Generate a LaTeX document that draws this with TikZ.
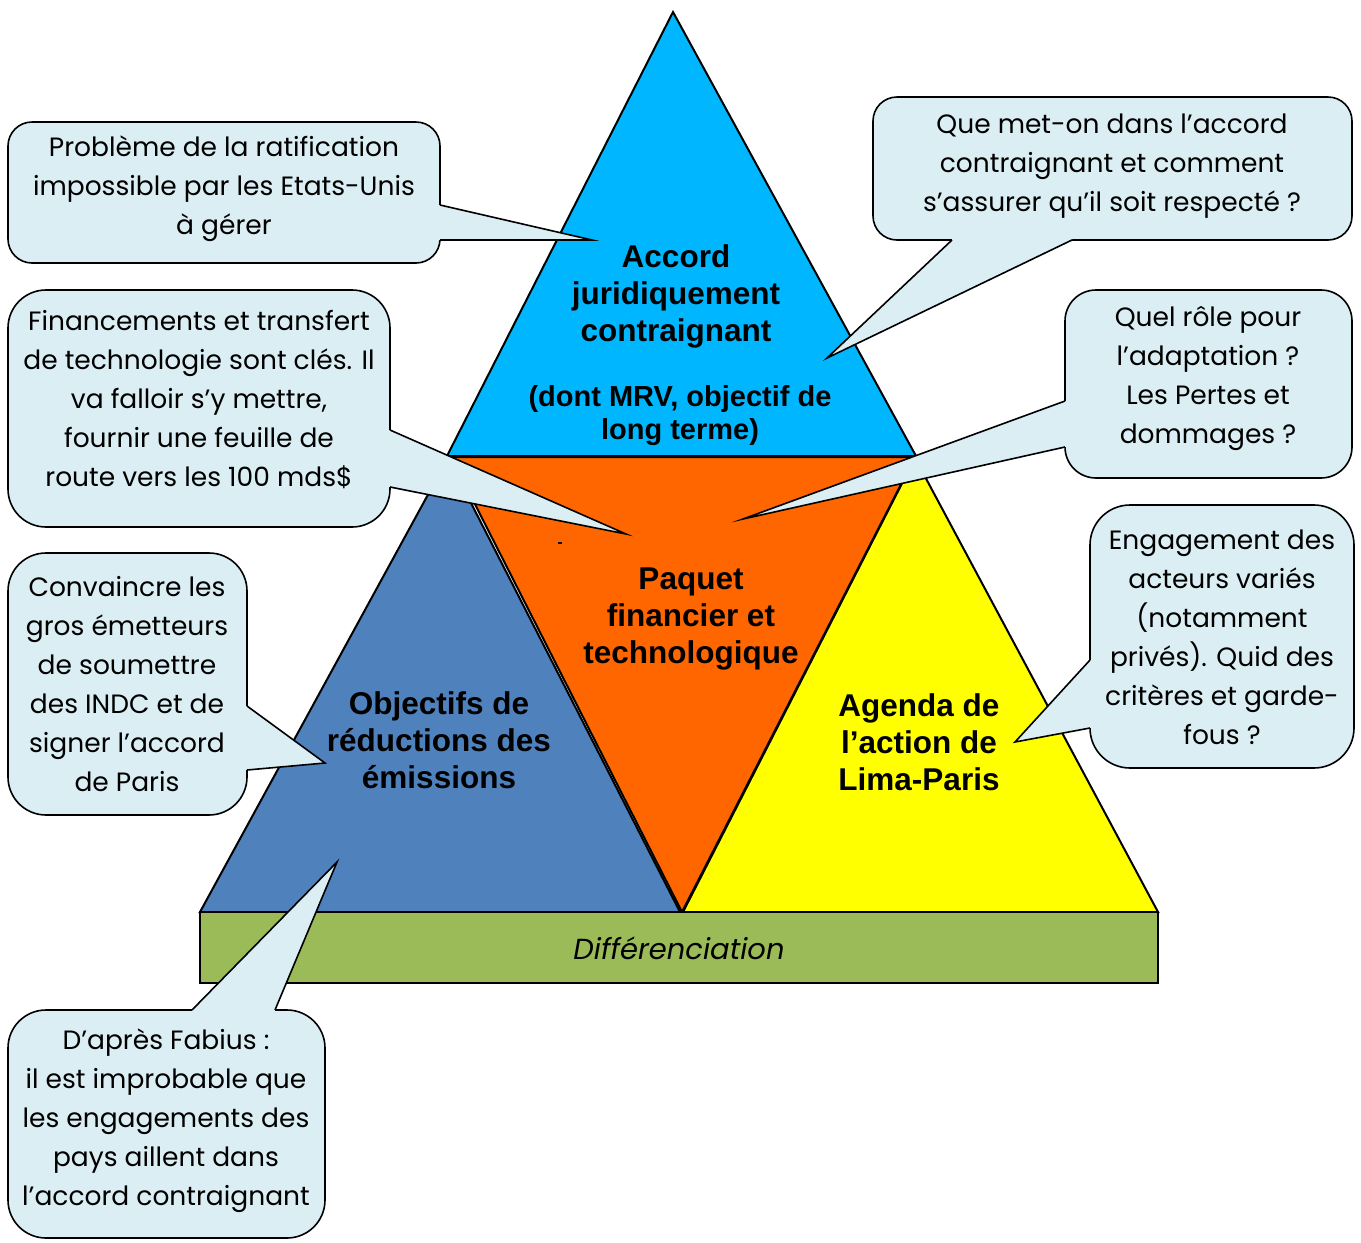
\documentclass[tikz,border=0pt]{standalone}
\usepackage{fontspec}
\setmainfont{Poppins}
\newfontfamily\labelfont{Liberation Sans}
\definecolor{topblue}{RGB}{0,183,255}
\definecolor{steel}{RGB}{79,129,189}
\definecolor{orangefill}{RGB}{255,102,0}
\definecolor{yellowfill}{RGB}{255,255,0}
\definecolor{basegreen}{RGB}{155,187,89}
\definecolor{bubblefill}{RGB}{219,238,244}
\begin{document}
\begin{tikzpicture}[x=1pt,y=-1pt,
  tri/.style={draw=black, line width=2pt, line join=miter},
  bubble/.style={fill=bubblefill, draw=black, line width=1.6pt},
  wedge/.style={draw=black, line width=1.6pt, line join=miter, miter limit=20},
  bubbletext/.style={align=center, inner sep=0pt, font=\fontsize{26.5}{39}\selectfont},
  mainlabel/.style={align=center, inner sep=0pt, font=\labelfont\bfseries\fontsize{31.5}{37}\selectfont},
  sublabel/.style={align=center, inner sep=0pt, font=\labelfont\bfseries\fontsize{29}{33}\selectfont}]
\useasboundingbox (0,0) rectangle (1361,1243);

% --- pyramid pieces ---
\draw[tri, fill=steel] (448,458) -- (200,912) -- (680,912) -- cycle;
\draw[tri, fill=yellowfill] (915,458) -- (683,912) -- (1158,912) -- cycle;
\draw[tri, fill=orangefill] (451,457) -- (915,457) -- (682,912) -- cycle;
\draw[tri, fill=topblue] (673,12) -- (447,456) -- (916,456) -- cycle;
\draw[tri, line width=1.5pt] (558,543) -- (562,543);

% --- base slab ---
\draw[tri, fill=basegreen] (200,912) rectangle (1158,983);
\node[font=\itshape\fontsize{29}{34}\selectfont] (diff) at (679,948) {Différenciation};

% --- labels of the pieces ---
\node[mainlabel] (accord) at (676,296) {Accord\\juridiquement\\contraignant};
\node[sublabel] (mrv) at (680,416) {(dont MRV, objectif de\\long terme)};
\node[mainlabel] (paquet) at (691,619) {Paquet\\financier et\\technologique};
\node[mainlabel] (objectifs) at (439,740) {Objectifs de\\réductions des\\émissions};
\node[mainlabel] (agenda) at (919,742) {Agenda de\\l’action de\\Lima-Paris};

% --- speech bubbles: box, then wedge fill over the border, then wedge sides ---
% ratification
\draw[bubble, rounded corners=24] (8,122) rectangle (440,263);
\coordinate (tA) at (592,240);
\fill[bubblefill] (436,205) -- (440,205) -- (tA) -- (440,240) -- (436,240) -- cycle;
\draw[wedge] (440,205) -- (tA) -- (440,240);
\node[bubbletext] (cA) at (224,189) {Problème de la ratification\\impossible par les Etats-Unis\\à gérer};

% contenu de l'accord
\draw[bubble, rounded corners=24] (873,97) rectangle (1352,240);
\coordinate (tB) at (827,358);
\fill[bubblefill] (952,236) -- (952,240) -- (tB) -- (1072,240) -- (1072,236) -- cycle;
\draw[wedge] (952,240) -- (tB) -- (1072,240);
\node[bubbletext] (cB) at (1112,166) {Que met-on dans l’accord\\contraignant et comment\\s’assurer qu’il soit respecté ?};

% financements
\draw[bubble, rounded corners=38] (8,290) rectangle (390,527);
\coordinate (tC) at (626,534);
\fill[bubblefill] (386,430) -- (390,430) -- (tC) -- (390,487) -- (386,487) -- cycle;
\draw[wedge] (390,430) -- (tC) -- (390,487);
\node[bubbletext] (cC) at (199,400) {Financements et transfert\\de technologie sont clés. Il\\va falloir s’y mettre,\\fournir une feuille de\\route vers les 100 mds\$};

% adaptation
\draw[bubble, rounded corners=31] (1065,290) rectangle (1352,478);
\coordinate (tD) at (743,519);
\fill[bubblefill] (1069,401) -- (1065,401) -- (tD) -- (1065,447) -- (1069,447) -- cycle;
\draw[wedge] (1065,401) -- (tD) -- (1065,447);
\node[bubbletext] (cD) at (1208,379) {Quel rôle pour\\l’adaptation ?\\Les Pertes et\\dommages ?};

% grands émetteurs
\draw[bubble, rounded corners=38] (8,553) rectangle (247,815);
\coordinate (tE) at (325,763);
\fill[bubblefill] (243,706) -- (247,706) -- (tE) -- (247,770) -- (243,770) -- cycle;
\draw[wedge] (247,706) -- (tE) -- (247,770);
\node[bubbletext] (cE) at (127,684) {Convaincre les\\gros émetteurs\\de soumettre\\des INDC et de\\signer l’accord\\de Paris};

% acteurs variés
\draw[bubble, rounded corners=40] (1090,505) rectangle (1354,768);
\coordinate (tF) at (1015,742);
\fill[bubblefill] (1094,660) -- (1090,660) -- (tF) -- (1090,728) -- (1094,728) -- cycle;
\draw[wedge] (1090,660) -- (tF) -- (1090,728);
\node[bubbletext] (cF) at (1222,637) {Engagement des\\acteurs variés\\(notamment\\privés). Quid des\\critères et garde-\\fous ?};

% Fabius
\draw[bubble, rounded corners=38] (8,1010) rectangle (325,1238);
\coordinate (tG) at (337,862);
\fill[bubblefill] (192,1014) -- (192,1010) -- (tG) -- (275,1010) -- (275,1014) -- cycle;
\draw[wedge] (192,1010) -- (tG) -- (275,1010);
\node[bubbletext] (cG) at (166,1121) {D’après Fabius :\\ il est improbable que\\les engagements des\\pays aillent dans\\l’accord contraignant};
\end{tikzpicture}
\end{document}
